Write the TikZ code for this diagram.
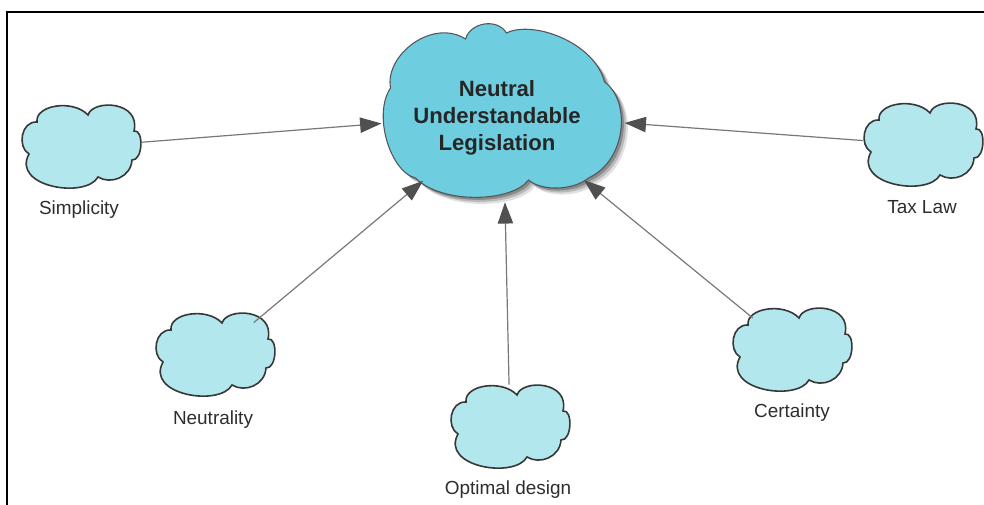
\documentclass[tikz,border=0pt]{standalone}
\usepackage{fontspec}
\setmainfont{Liberation Sans}
\usetikzlibrary{arrows.meta,shapes.geometric}

\definecolor{mainfill}{RGB}{110,206,224}
\definecolor{smallfill}{RGB}{178,231,238}
\definecolor{cloudedge}{RGB}{55,55,55}
\definecolor{mainedge}{RGB}{85,85,85}
\definecolor{linkgray}{RGB}{120,120,120}
\definecolor{headgray}{RGB}{80,80,80}
\definecolor{labelgray}{RGB}{45,45,45}

\tikzset{
  % outline of a small cloud, centred on the origin (units: px)
  smallcloud/.pic={
    \path[pic actions]
      (-44,25) .. controls (-46,42) and (-8,48) .. (7,32)
               .. controls (12,48) and (60,46) .. (53,16)
               .. controls (63,18) and (62,-14) .. (51,-13)
               .. controls (50,-30) and (30,-38) .. (17,-30)
               .. controls (5,-52) and (-70,-40) .. (-52,-7)
               .. controls (-64,0) and (-60,26) .. (-44,25) -- cycle;
  },
  % outline of the central cloud
  bigcloud/.pic={
    \path[pic actions]
      (-112,22) .. controls (-118,55) and (-70,92) .. (-37,71)
                .. controls (-32,88) and (-5,92) .. (4,77)
                .. controls (30,90) and (92,68) .. (102,28)
                .. controls (128,10) and (125,-50) .. (86,-68)
                .. controls (72,-80) and (40,-82) .. (26,-70)
                .. controls (10,-92) and (-60,-95) .. (-87,-68)
                .. controls (-112,-62) and (-130,-5) .. (-112,22) -- cycle;
  },
  smallstyle/.style={draw=cloudedge, fill=smallfill, line width=1.2pt},
  hub/.style={ellipse, draw=none, inner sep=0pt,
              minimum width=90pt, minimum height=63pt},
  bighub/.style={ellipse, draw=none, inner sep=0pt,
              minimum width=183pt, minimum height=132pt},
  caption/.style={anchor=base, text=labelgray, font=\fontsize{14.2pt}{17pt}\selectfont},
  link/.style={draw=linkgray, line width=0.9pt,
               -{Triangle[length=16pt,width=11.5pt,color=headgray]}},
}

\begin{document}
\begin{tikzpicture}[x=0.75pt,y=0.75pt]
  \useasboundingbox (0,0) rectangle (984,505);

  % frame along the top and left edges
  \draw[line width=1.1pt] (7,0) -- (7,493) -- (984,493);

  % central cloud with its soft shadow
  \pic[fill=black, opacity=0.12] at (509,388.5) {bigcloud};
  \pic[fill=black, opacity=0.18] at (507,390.5) {bigcloud};
  \pic[fill=black, opacity=0.25] at (505,392.5) {bigcloud};
  \pic[fill=mainfill, draw=mainedge, line width=0.8pt] at (502.5,395) {bigcloud};
  \node[bighub] (main) at (503,391) {};
  \node[align=center, font=\bfseries\fontsize{16.6pt}{20.2pt}\selectfont,
        inner sep=0pt, text=black!85] (maintext) at (497,386.8)
        {Neutral\\Understandable\\Legislation};

  % surrounding clouds
  \pic[smallstyle] at (81,358) {smallcloud};
  \node[hub] (simp) at (81,358) {};
  \node[caption] (simplabel) at (79,290) {Simplicity};

  \pic[smallstyle] at (923,360) {smallcloud};
  \node[hub] (tax) at (923,360) {};
  \node[caption] (taxlabel) at (922,291) {Tax Law};

  \pic[smallstyle] at (215,150) {smallcloud};
  \node[hub] (neut) at (215,150) {};
  \node[caption] (neutlabel) at (213,80) {Neutrality};

  \pic[smallstyle] at (510,78) {smallcloud};
  \node[hub] (opt) at (510,78) {};
  \node[caption] (optlabel) at (508,10) {Optimal design};

  \pic[smallstyle] at (792,155) {smallcloud};
  \node[hub] (cert) at (792,155) {};
  \node[caption] (certlabel) at (792,87) {Certainty};

  % connectors into the central cloud
  \draw[link] (simp) -- (main);
  \draw[link] (tax) -- (main);
  \draw[link] (neut) -- (main);
  \draw[link] (opt) -- (main);
  \draw[link] (cert) -- (main);
\end{tikzpicture}
\end{document}
